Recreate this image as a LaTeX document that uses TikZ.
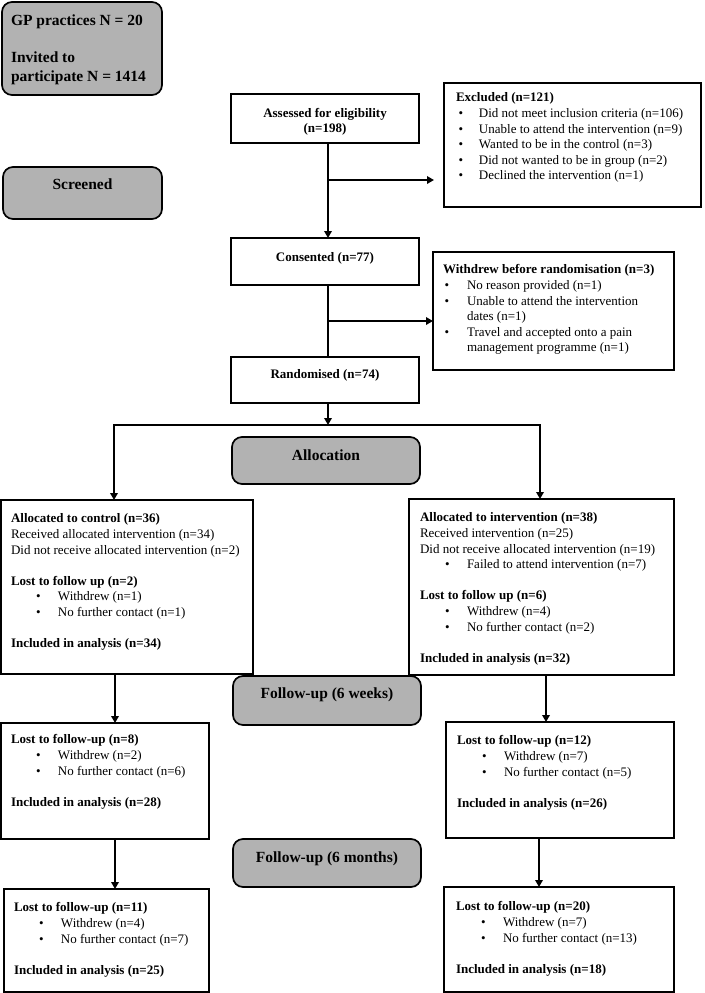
\documentclass[tikz,border=0pt]{standalone}
\usepackage{fontspec}
\setmainfont{Liberation Serif}
\usetikzlibrary{arrows.meta}
\newcommand{\fsn}{\fontsize{13}{15.6}\selectfont}
\newcommand{\fsl}{\fontsize{15.5}{18.5}\selectfont\bfseries}
\newcommand{\bi}[1]{\hspace*{25pt}\makebox[22pt][l]{\textbullet}#1}
\newcommand{\bo}[1]{\hspace*{2.7pt}\makebox[20.3pt][l]{\textbullet}#1}
\newcommand{\bw}[1]{\hspace*{1.7pt}\makebox[22.3pt][l]{\textbullet}#1}
\begin{document}
\begin{tikzpicture}[x=1pt,y=-1pt,
  box/.style={draw=black, line width=1.7pt, fill=white, inner sep=0pt, outer sep=0pt, anchor=north west},
  gbox/.style={box, fill=black!30, rounded corners=10pt},
  txt/.style={inner sep=0pt, outer sep=0pt, align=left, anchor=north west, font=\fsn},
  ctxt/.style={inner sep=0pt, outer sep=0pt, anchor=base, font=\fsn\bfseries},
  ltxt/.style={inner sep=0pt, outer sep=0pt, anchor=base, font=\fsl},
  ln/.style={line width=2pt},
  arr/.style={line width=2pt, -{Triangle[length=7pt,width=7.5pt]}},
]
\useasboundingbox (0,0) rectangle (704,993);

% boxes
\node[gbox, minimum width=160pt, minimum height=93pt] (GP) at (2,2) {};
\node[gbox, minimum width=159pt, minimum height=52pt] (Scr) at (3,167) {};
\node[box, minimum width=188pt, minimum height=49pt] (Ass) at (231,94) {};
\node[box, minimum width=257pt, minimum height=124pt] (Exc) at (444,83) {};
\node[box, minimum width=188pt, minimum height=47pt] (Con) at (231,238) {};
\node[box, minimum width=241pt, minimum height=118pt] (Wit) at (433,252) {};
\node[box, minimum width=188pt, minimum height=46pt] (Ran) at (231,357) {};
\node[gbox, minimum width=188pt, minimum height=47pt] (All) at (232,437) {};
\node[box, minimum width=252pt, minimum height=174pt] (Ctl) at (1,500) {};
\node[box, minimum width=265pt, minimum height=176pt] (Int) at (409,499) {};
\node[gbox, minimum width=188pt, minimum height=49pt] (FUw) at (233,676) {};
\node[box, minimum width=208pt, minimum height=116pt] (BL2) at (1,723) {};
\node[box, minimum width=228pt, minimum height=116pt] (BR2) at (446,722) {};
\node[gbox, minimum width=188pt, minimum height=48pt] (FUm) at (233,839) {};
\node[box, minimum width=205pt, minimum height=103pt] (BL3) at (4,889) {};
\node[box, minimum width=230pt, minimum height=105pt] (BR3) at (444,887) {};

% texts
\node[txt, font=\fsl] (GPt) at (11,13) {\strut GP practices N = 20\\\strut\\Invited to\\participate N = 1414};
\node[ltxt] (Scrt) at (82.5,189) {Screened};
\node[ltxt] (Allt) at (326,460) {Allocation};
\node[ltxt] (FUwt) at (327,698) {Follow-up (6 weeks)};
\node[ltxt] (FUmt) at (327,862) {Follow-up (6 months)};
\node[inner sep=0pt, outer sep=0pt, align=center, anchor=north, font=\fsn\bfseries] (Asst) at (325,106.1) {\strut Assessed for eligibility\\(n=198)};
\node[ctxt] (Cont) at (325,261) {Consented (n=77)};
\node[ctxt] (Rant) at (325,378) {Randomised (n=74)};

\node[txt] (Exct) at (456,90.9) {\strut\textbf{Excluded (n=121)}\\
\bo{Did not meet inclusion criteria (n=106)}\\
\bo{Unable to attend the intervention (n=9)}\\
\bo{Wanted to be in the control (n=3)}\\
\bo{Did not wanted to be in group (n=2)}\\
\bo{Declined the intervention (n=1)}};

\node[txt] (Witt) at (443,262.9) {\strut\textbf{Withdrew before randomisation (n=3)}\\
\bw{No reason provided (n=1)}\\
\bw{Unable to attend the intervention}\\
\hspace*{24pt}dates (n=1)\\
\bw{Travel and accepted onto a pain}\\
\hspace*{24pt}management programme (n=1)};

\node[txt] (Ctlt) at (11,511.9) {\strut\textbf{Allocated to control (n=36)}\\
Received allocated intervention (n=34)\\
Did not receive allocated intervention (n=2)\\
\strut\\
\textbf{Lost to follow up (n=2)}\\
\bi{Withdrew (n=1)}\\
\bi{No further contact (n=1)}\\
\strut\\
\textbf{Included in analysis (n=34)}};

\node[txt] (Intt) at (420,510.9) {\strut\textbf{Allocated to intervention (n=38)}\\
Received intervention (n=25)\\
Did not receive allocated intervention (n=19)\\
\bi{Failed to attend intervention (n=7)}\\
\strut\\
\textbf{Lost to follow up (n=6)}\\
\bi{Withdrew (n=4)}\\
\bi{No further contact (n=2)}\\
\strut\\
\textbf{Included in analysis (n=32)}};

\node[txt] (BL2t) at (11,732.9) {\strut\textbf{Lost to follow-up (n=8)}\\
\bi{Withdrew (n=2)}\\
\bi{No further contact (n=6)}\\
\strut\\
\textbf{Included in analysis (n=28)}};

\node[txt] (BR2t) at (457,733.9) {\strut\textbf{Lost to follow-up (n=12)}\\
\bi{Withdrew (n=7)}\\
\bi{No further contact (n=5)}\\
\strut\\
\textbf{Included in analysis (n=26)}};

\node[txt] (BL3t) at (14,900.9) {\strut\textbf{Lost to follow-up (n=11)}\\
\bi{Withdrew (n=4)}\\
\bi{No further contact (n=7)}\\
\strut\\
\textbf{Included in analysis (n=25)}};

\node[txt] (BR3t) at (456,899.9) {\strut\textbf{Lost to follow-up (n=20)}\\
\bi{Withdrew (n=7)}\\
\bi{No further contact (n=13)}\\
\strut\\
\textbf{Included in analysis (n=18)}};

% connectors
\coordinate (c1) at (328,180);
\coordinate (c2) at (328,321);
\coordinate (split) at (328,425);
\coordinate (sl) at (114,425);
\coordinate (sr) at (540,425);
\coordinate (fl) at (115,0);
\coordinate (fr1) at (546,0);
\coordinate (fr2) at (539,0);

\draw[arr] (Ass.south -| c1) -- (Con.north -| c1);
\draw[arr, shorten >=10pt] (c1) -- (c1 -| Exc.west);
\draw[ln] (Con.south -| c1) -- (Ran.north -| c1);
\draw[arr] (c2) -- (c2 -| Wit.west);
\draw[arr] (Ran.south -| split) -- (split);
\draw[line width=2pt, {Triangle[length=7pt,width=7.5pt]}-{Triangle[length=7pt,width=7.5pt]}] (sl |- Ctl.north) -- (sl) -- (sr) -- (sr |- Int.north);
\draw[arr] (Ctl.south -| fl) -- (BL2.north -| fl);
\draw[arr] (BL2.south -| fl) -- (BL3.north -| fl);
\draw[arr] (Int.south -| fr1) -- (BR2.north -| fr1);
\draw[arr] (BR2.south -| fr2) -- (BR3.north -| fr2);
\end{tikzpicture}
\end{document}
